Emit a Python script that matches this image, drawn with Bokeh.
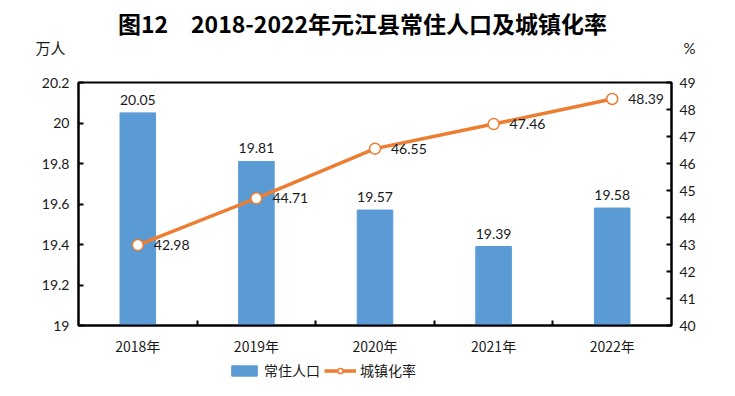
from bokeh.plotting import figure
from bokeh.layouts import column
from bokeh.models import (Range1d, LinearAxis, FixedTicker, Label, Legend, LegendItem,
                          ColumnDataSource)
from bokeh.core.properties import value
from bokeh.embed import file_html
from bokeh.resources import INLINE

years = ["2018年", "2019年", "2020年", "2021年", "2022年"]
population = [20.05, 19.81, 19.57, 19.39, 19.58]
urban_rate = [42.98, 44.71, 46.55, 47.46, 48.39]
left_ticks = [19, 19.2, 19.4, 19.6, 19.8, 20, 20.2]
left_tick_labels = ["19", "19.2", "19.4", "19.6", "19.8", "20", "20.2"]
right_ticks = [40, 41, 42, 43, 44, 45, 46, 47, 48, 49]
series_names = ["常住人口", "城镇化率"]
title_text = "图12\u30002018-2022年元江县常住人口及城镇化率"
left_unit = "万人"
right_unit = "%"

BAR = "#5B9BD5"
ORANGE = "#ED7D31"
TXT = "#1a1a1a"
NUM_FONT = "Lato"
CJK_FONT = "Noto Sans CJK SC"

W = 735
HEAD_H, MAIN_H, FOOT_H = 70, 288, 38
FL, FR = 78, 671          # frame left/right (page px)
FT, FB = 82, 328          # frame top/bottom (page px)


def no_align(fig):
    if "frame_align" in fig.properties():
        fig.frame_align = False


# ---------------- header (title + units) ----------------
head = figure(width=W, height=HEAD_H, output_backend="svg", toolbar_location=None,
              x_axis_type=None, y_axis_type=None, min_border=0, title=None,
              x_range=Range1d(0, 1), y_range=Range1d(0, 1))
no_align(head)
head.outline_line_color = None
head.xgrid.visible = False
head.ygrid.visible = False
head.add_layout(Label(x=362, y=HEAD_H - 22, x_units="screen", y_units="screen",
                      text=title_text, text_align="center", text_baseline="middle",
                      text_font=CJK_FONT, text_font_style="bold",
                      text_font_size="23px", text_color="black"))
head.add_layout(Label(x=35, y=HEAD_H - 47, x_units="screen", y_units="screen",
                      text=left_unit, text_align="left", text_baseline="middle",
                      text_font=CJK_FONT, text_font_size="15px", text_color=TXT))
head.add_layout(Label(x=689, y=HEAD_H - 47, x_units="screen", y_units="screen",
                      text=right_unit, text_align="center", text_baseline="middle",
                      text_font=NUM_FONT, text_font_size="15px", text_color=TXT))

# ---------------- main chart ----------------
xs = [i + 0.5 for i in range(len(years))]
src = ColumnDataSource(dict(
    x=xs, pop=population, rate=urban_rate,
    pop_lbl=[f"{v:.2f}" for v in population],
    rate_lbl=[f"{v:.2f}" for v in urban_rate],
))

p = figure(width=W, height=MAIN_H, output_backend="svg", toolbar_location=None,
           x_range=Range1d(0, len(years)), y_range=Range1d(19, 20.2),
           min_border_left=FL, min_border_right=W - FR,
           min_border_top=FT - HEAD_H, min_border_bottom=HEAD_H + MAIN_H - FB,
           title=None)
p.extra_y_ranges = {"pct": Range1d(40, 49)}
p.xgrid.visible = False
p.ygrid.visible = False
p.outline_line_color = "black"
p.outline_line_width = 2

ya = p.yaxis[0]
ya.ticker = FixedTicker(ticks=left_ticks)
ya.major_label_overrides = dict(zip(left_ticks, left_tick_labels))
ra = LinearAxis(y_range_name="pct", ticker=FixedTicker(ticks=right_ticks))
p.add_layout(ra, "right")
for ax in (ya, ra):
    ax.axis_line_width = 2
    ax.axis_line_color = "black"
    ax.major_tick_in = 5
    ax.major_tick_out = 0
    ax.major_tick_line_width = 2
    ax.minor_tick_line_color = None
    ax.major_label_text_font = NUM_FONT
    ax.major_label_text_font_size = "14px"
    ax.major_label_text_color = TXT
ya.major_label_standoff = 9
ra.major_label_standoff = 8

xa = p.xaxis[0]
xa.ticker = FixedTicker(ticks=xs, minor_ticks=[1, 2, 3, 4])
xa.major_label_overrides = dict(zip(xs, years))
xa.axis_line_width = 2
xa.axis_line_color = "black"
xa.major_tick_in = 0
xa.major_tick_out = 0
xa.minor_tick_in = 5
xa.minor_tick_out = 0
xa.minor_tick_line_width = 2
xa.minor_tick_line_color = "black"
xa.major_label_text_font = CJK_FONT
xa.major_label_text_font_size = "14px"
xa.major_label_text_color = TXT
xa.major_label_standoff = 10

p.vbar(x="x", top="pop", bottom=19, width=0.3, color=BAR, source=src)
p.line(x="x", y="rate", y_range_name="pct", line_color=ORANGE, line_width=3.5,
       source=src)
p.scatter(x="x", y="rate", y_range_name="pct", size=11, fill_color="white",
          line_color=ORANGE, line_width=1.5, source=src)

p.text(x="x", y="pop", text="pop_lbl", source=src, text_align="center",
       text_baseline="bottom", y_offset=-8, text_font=value(NUM_FONT),
       text_font_size="14px", text_color=TXT)
p.text(x="x", y="rate", text="rate_lbl", source=src, y_range_name="pct",
       text_align="left", text_baseline="middle", x_offset=16,
       text_font=value(NUM_FONT), text_font_size="14px", text_color=TXT)

# ---------------- footer (legend) ----------------
# the footer's ranges lie far from the data, so its renderers only feed the legend
foot = figure(width=W, height=FOOT_H, output_backend="svg", toolbar_location=None,
              x_axis_type=None, y_axis_type=None, min_border=0, title=None,
              x_range=Range1d(1000, 1001), y_range=Range1d(1000, 1001))
no_align(foot)
foot.outline_line_color = None
foot.xgrid.visible = False
foot.ygrid.visible = False
lb = foot.vbar(x="x", top="pop", width=0.3, color=BAR, source=src)
ll = foot.line(x="x", y="rate", line_color=ORANGE, line_width=3.5, source=src)
lc = foot.scatter(x="x", y="rate", size=11, fill_color="white", line_color=ORANGE,
                  line_width=1.5, source=src)
legend = Legend(items=[LegendItem(label=series_names[0], renderers=[lb]),
                       LegendItem(label=series_names[1], renderers=[ll, lc])],
                orientation="horizontal", location=(228, 16),
                label_text_font=CJK_FONT, label_text_font_size="14px",
                label_text_color=TXT, glyph_width=32, glyph_height=13,
                label_standoff=4, spacing=4, padding=2, margin=0,
                border_line_color=None, background_fill_alpha=0)
foot.add_layout(legend, "center")

layout = column(head, p, foot, spacing=0)
open("out.html", "w").write(file_html(layout, INLINE))
